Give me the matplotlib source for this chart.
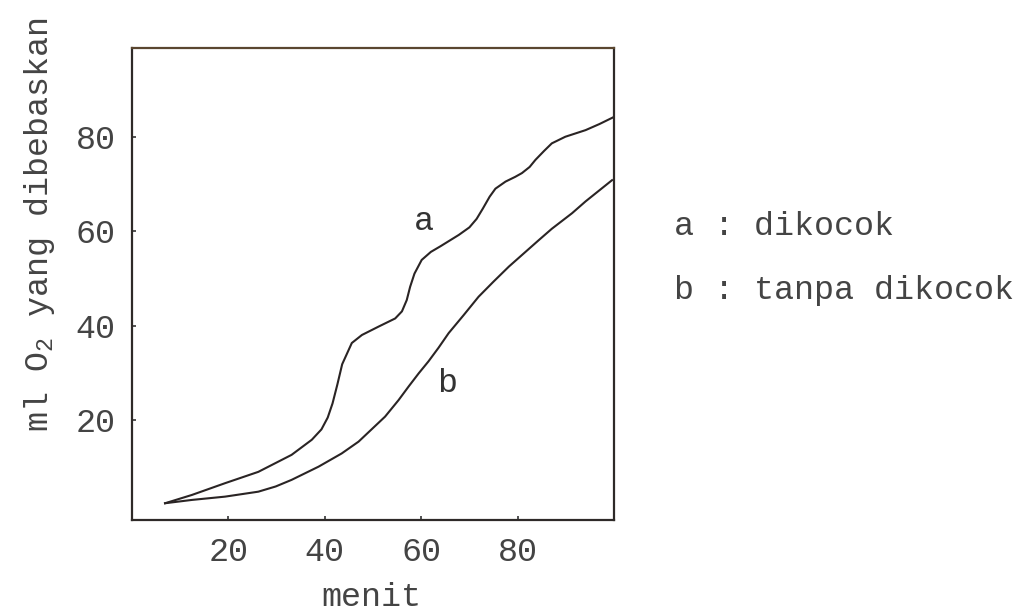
import matplotlib
matplotlib.use("Agg")
import matplotlib.pyplot as plt

# Curve a: dikocok
a_x = [6.85, 12.4, 19.3, 26.2, 33.1, 37.3, 39.3, 40.6, 41.6, 42.6, 43.6, 45.6, 47.7,
       51.2, 54.6, 56.0, 57.0, 57.7, 58.6, 60.1, 62.0, 64.0, 67.8, 70.0, 71.5, 72.8,
       74.2, 75.4, 77.5, 79.5, 80.9, 82.5, 83.7, 85.5, 87.1, 89.9, 94.1, 97.0, 100.0]
a_y = [2.35, 4.1, 6.6, 9.0, 12.6, 15.8, 18.0, 20.5, 23.5, 27.5, 31.8, 36.3, 38.0,
       39.8, 41.5, 43.0, 45.4, 48.2, 51.0, 53.9, 55.6, 56.8, 59.2, 60.8, 62.6, 64.8,
       67.3, 69.0, 70.5, 71.5, 72.3, 73.6, 75.1, 77.0, 78.6, 80.0, 81.4, 82.7, 84.2]

# Curve b: tanpa dikocok
b_x = [6.85, 12.4, 19.3, 26.2, 29.8, 33.1, 38.7, 43.5, 47.0, 52.5, 55.3, 57.4, 59.5,
       61.5, 63.6, 65.7, 68.8, 71.9, 75.0, 78.2, 81.3, 84.4, 87.1, 91.3, 94.1, 99.6]
b_y = [2.35, 3.05, 3.75, 4.8, 5.9, 7.3, 10.1, 12.9, 15.4, 20.7, 24.2, 27.1, 29.9,
       32.4, 35.3, 38.4, 42.2, 46.1, 49.3, 52.5, 55.3, 58.1, 60.5, 63.8, 66.3, 70.8]

x_ticks = [20, 40, 60, 80]
y_ticks = [20, 40, 60, 80]
x_label = "menit"
y_label = "ml O$_2$ yang dibebaskan"
legend_lines = ["a : dikocok", "b : tanpa dikocok"]

FONT = "Liberation Mono"
plt.rcParams["font.family"] = [FONT, "DejaVu Sans Mono"]
plt.rcParams["mathtext.fontset"] = "custom"
plt.rcParams["mathtext.rm"] = FONT
plt.rcParams["mathtext.it"] = FONT

FS = 24
TXT = "#444444"

fig = plt.figure(figsize=(10.30, 6.14), dpi=100)
ax = fig.add_axes([0.1282, 0.1531, 0.4679, 0.7687])

line_col = "#2a2424"
ax.plot(a_x, a_y, color=line_col, lw=1.5, solid_joinstyle="round")
ax.plot(b_x, b_y, color=line_col, lw=1.5, solid_joinstyle="round")

ax.set_xlim(0, 100)
ax.set_ylim(-1.2, 98.8)
ax.set_xticks(x_ticks)
ax.set_yticks(y_ticks)
ax.tick_params(direction="in", length=3, width=1.2, colors="#333333",
               labelsize=FS, labelcolor=TXT, pad=12)
for s in ax.spines.values():
    s.set_color("#2e2a28")
    s.set_linewidth(1.6)
ax.spines["top"].set_color("#5a4630")

fig.text(371 / 1030, 1 - 598 / 614, x_label, fontsize=FS, color=TXT,
         ha="center", va="center")
fig.text(40 / 1030, 1 - 225 / 614, y_label, fontsize=FS, color=TXT,
         ha="center", va="center", rotation=90)

ax.text(60.5, 62.0, "a", fontsize=FS, color="#333333", ha="center", va="center")
ax.text(65.3, 27.8, "b", fontsize=FS, color="#333333", ha="center", va="center")

fig.text(674 / 1030, 1 - 227 / 614, legend_lines[0], fontsize=FS, color=TXT,
         ha="left", va="center")
fig.text(674 / 1030, 1 - 290 / 614, legend_lines[1], fontsize=FS, color=TXT,
         ha="left", va="center")

fig.savefig("out.png", dpi=100)
